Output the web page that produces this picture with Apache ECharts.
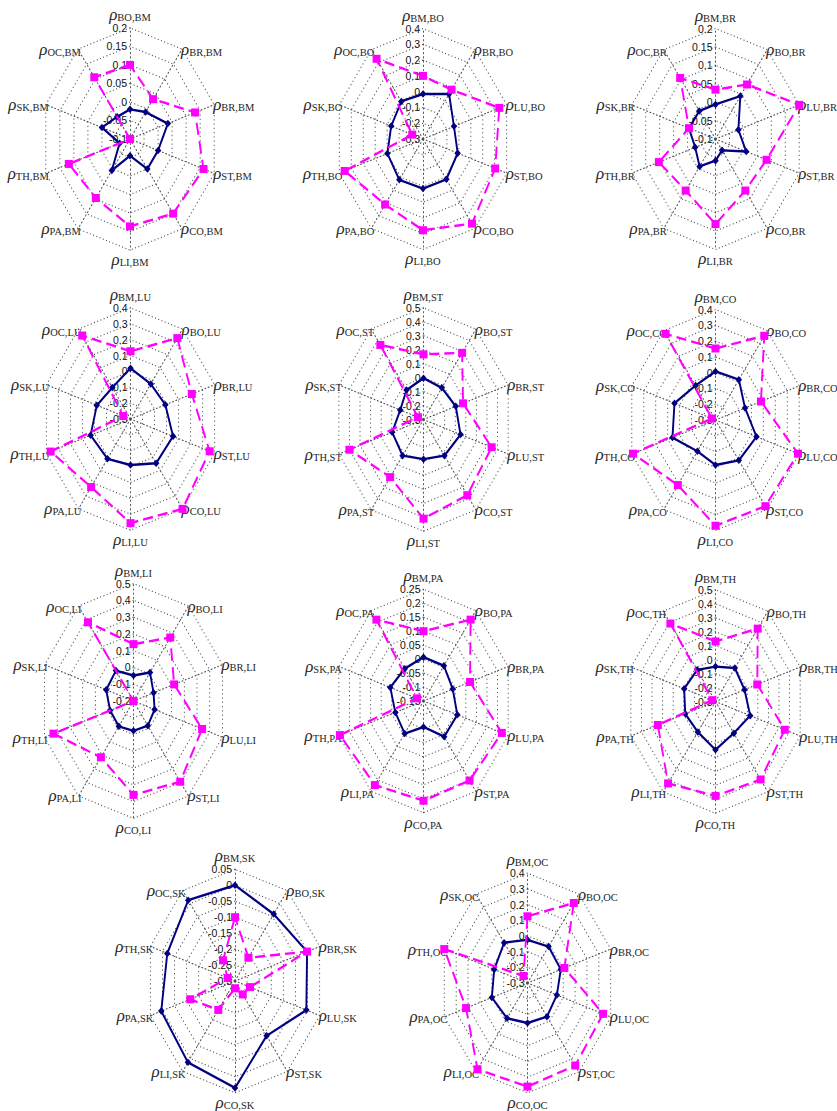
<!DOCTYPE html>
<html>
<head>
<meta charset="utf-8">
<script src="https://cdn.jsdelivr.net/npm/echarts@6.0.0/dist/echarts.min.js"></script>
<style>
  html, body { margin: 0; padding: 0; background: #fff; }
  #wrap { position: relative; width: 837px; height: 1111px; overflow: hidden; background: #fff; }
  #labels { position: absolute; left: 0; top: 0; width: 837px; height: 1111px; }
  #plots { position: absolute; left: 0; top: 0; width: 837px; height: 885px; transform-origin: 0 0; }
</style>
</head>
<body>
<div id="wrap">
  <div id="labels"></div>
  <div id="plots"></div>
</div>
<script>
// Axis order of every spider panel, clockwise from the top spoke.
const axesBM = ['BO', 'BR', 'BR', 'ST', 'CO', 'LI', 'PA', 'TH', 'SK', 'OC'];
const axesBO = ['BM', 'BR', 'LU', 'ST', 'CO', 'LI', 'PA', 'TH', 'SK', 'OC'];
const axesBR = ['BM', 'BO', 'LU', 'ST', 'CO', 'LI', 'PA', 'TH', 'SK', 'OC'];
const axesLU = ['BM', 'BO', 'BR', 'ST', 'CO', 'LI', 'PA', 'TH', 'SK', 'OC'];
const axesST = ['BM', 'BO', 'BR', 'LU', 'CO', 'LI', 'PA', 'TH', 'SK', 'OC'];
const axesCO = ['BM', 'BO', 'BR', 'LU', 'ST', 'LI', 'PA', 'TH', 'SK', 'OC'];
const axesLI = ['BM', 'BO', 'BR', 'LU', 'ST', 'CO', 'PA', 'TH', 'SK', 'OC'];
const axesPA = ['BM', 'BO', 'BR', 'LU', 'ST', 'CO', 'LI', 'TH', 'SK', 'OC'];
const axesTH = ['BM', 'BO', 'BR', 'LU', 'ST', 'CO', 'LI', 'PA', 'SK', 'OC'];
const axesSK = ['BM', 'BO', 'BR', 'LU', 'ST', 'CO', 'LI', 'PA', 'TH', 'OC'];
const axesOC = ['BM', 'BO', 'BR', 'LU', 'ST', 'CO', 'LI', 'PA', 'TH', 'SK'];

// Radial tick labels, outer ring first; the last one sits at the centre.
const ticksBM = [0.2, 0.15, 0.1, 0.05, 0, -0.05, -0.1];
const ticksBO = [0.4, 0.3, 0.2, 0.1, 0, -0.1, -0.2, -0.3];
const ticksBR = [0.2, 0.15, 0.1, 0.05, 0, -0.05, -0.1];
const ticksLU = [0.4, 0.3, 0.2, 0.1, 0, -0.1, -0.2, -0.3];
const ticksST = [0.5, 0.4, 0.3, 0.2, 0.1, 0, -0.1, -0.2, -0.3];
const ticksCO = [0.4, 0.3, 0.2, 0.1, 0, -0.1, -0.2, -0.3];
const ticksLI = [0.5, 0.4, 0.3, 0.2, 0.1, 0, -0.1, -0.2];
const ticksPA = [0.25, 0.2, 0.15, 0.1, 0.05, 0, -0.05, -0.1, -0.15];
const ticksTH = [0.5, 0.4, 0.3, 0.2, 0.1, 0, -0.1, -0.2, -0.3];
const ticksSK = [0.05, 0, -0.05, -0.1, -0.15, -0.2, -0.25, -0.3];
const ticksOC = [0.4, 0.3, 0.2, 0.1, 0, -0.1, -0.2, -0.3];

// Correlations drawn as the solid navy polygon (diamond markers).
const rhoA_BM = [-0.02, -0.01, 0.035, 0.0, 0.0, -0.055, 0.005, -0.063, 0.0, -0.026];
const rhoA_BO = [-0.015, 0.053, -0.041, -0.01, 0.016, 0.014, 0.02, -0.002, -0.034, -0.006];
const rhoA_BR = [-0.006, 0.044, -0.018, 0.01, -0.062, -0.041, -0.008, -0.027, -0.005, -0.006];
const rhoA_LU = [0.02, -0.027, -0.01, 0.054, 0.045, -0.01, 0.01, 0.032, -0.02, -0.055];
const rhoA_ST = [-0.004, -0.02, 0.005, 0.05, 0.02, -0.016, 0.02, -0.004, -0.08, -0.04];
const rhoA_CO = [0.008, 0.016, -0.053, 0.043, 0.016, -0.015, -0.055, 0.06, 0.043, -0.03];
const rhoA_LI = [-0.048, 0.01, -0.042, -0.034, -0.018, -0.022, -0.013, -0.016, 0.015, 0.024];
const rhoA_PA = [0.007, 0.006, -0.012, 0.01, 0.008, -0.057, -0.006, -0.017, 0.007, -0.007];
const rhoA_TH = [-0.05, -0.004, -0.026, 0.028, -0.02, 0.046, -0.03, -0.014, -0.004, -0.02];
const rhoA_SK = [0.0, -0.041, -0.002, -0.005, -0.088, 0.035, 0.015, 0.005, -0.02, 0.013];
const rhoA_OC = [-0.025, -0.013, -0.02, -0.053, -0.035, -0.045, -0.022, 0.0, -0.02, 0.018];

// Correlations drawn as the dashed magenta polygon (square markers).
const rhoB_BM = [0.1, 0.033, 0.132, 0.162, 0.149, 0.136, 0.097, 0.118, -0.1, 0.106];
const rhoB_BO = [0.1, 0.086, 0.338, 0.304, 0.363, 0.278, 0.213, 0.355, -0.21, 0.328];
const rhoB_BR = [0.034, 0.083, 0.2, 0.083, 0.073, 0.131, 0.073, 0.103, -0.005, 0.105];
const rhoB_LU = [0.127, 0.33, 0.21, 0.358, 0.4, 0.356, 0.23, 0.364, -0.24, 0.35];
const rhoB_ST = [0.166, 0.29, 0.074, 0.344, 0.37, 0.41, 0.21, 0.4, -0.247, 0.36];
const rhoB_CO = [0.153, 0.36, 0.08, 0.39, 0.375, 0.37, 0.21, 0.39, -0.27, 0.375];
const rhoB_LI = [0.139, 0.268, 0.12, 0.34, 0.395, 0.36, 0.215, 0.43, -0.2, 0.38];
const rhoB_PA = [0.1, 0.21, 0.07, 0.22, 0.202, 0.207, 0.222, 0.245, -0.119, 0.21];
const rhoB_TH = [0.13, 0.345, 0.095, 0.355, 0.39, 0.376, 0.425, 0.245, -0.27, 0.39];
const rhoB_SK = [-0.1, -0.21, -0.002, -0.238, -0.248, -0.277, -0.188, -0.115, -0.27, -0.22];
const rhoB_OC = [0.125, 0.33, 0.01, 0.336, 0.35, 0.36, 0.38, 0.217, 0.4, -0.245];

const panels = [
  { id: 'BM', axes: axesBM, ticks: ticksBM, a: rhoA_BM, b: rhoB_BM },
  { id: 'BO', axes: axesBO, ticks: ticksBO, a: rhoA_BO, b: rhoB_BO },
  { id: 'BR', axes: axesBR, ticks: ticksBR, a: rhoA_BR, b: rhoB_BR },
  { id: 'LU', axes: axesLU, ticks: ticksLU, a: rhoA_LU, b: rhoB_LU },
  { id: 'ST', axes: axesST, ticks: ticksST, a: rhoA_ST, b: rhoB_ST },
  { id: 'CO', axes: axesCO, ticks: ticksCO, a: rhoA_CO, b: rhoB_CO },
  { id: 'LI', axes: axesLI, ticks: ticksLI, a: rhoA_LI, b: rhoB_LI },
  { id: 'PA', axes: axesPA, ticks: ticksPA, a: rhoA_PA, b: rhoB_PA },
  { id: 'TH', axes: axesTH, ticks: ticksTH, a: rhoA_TH, b: rhoB_TH },
  { id: 'SK', axes: axesSK, ticks: ticksSK, a: rhoA_SK, b: rhoB_SK },
  { id: 'OC', axes: axesOC, ticks: ticksOC, a: rhoA_OC, b: rhoB_OC }
];

// Page placement of each panel: centre x, centre y, horizontal radius (px).
const placement = [
  [130, 139, 88.5], [423, 139, 88], [715.5, 139, 88],
  [130.5, 419, 88.5], [423.5, 419.5, 89], [715.5, 420, 88],
  [133.5, 701, 93.5], [423.5, 701, 89], [715.5, 701.5, 89],
  [235, 981, 89], [527.5, 983, 87.5]
];

// The spider axes are taller than wide: the plot layer is stretched vertically.
const PLOT_H = 885;
const SY = 1111 / PLOT_H;

// ECharts lays radar indicators out counter-clockwise; keep the first spoke on top
// and reverse the rest so the order runs clockwise.
function clockwiseOrder(arr) {
  return [arr[0]].concat(arr.slice(1).reverse());
}

const plotsEl = document.getElementById('plots');
plotsEl.style.transform = 'scaleY(' + SY + ')';
const plotChart = echarts.init(plotsEl, null, { renderer: 'svg' });

const dotted = { color: '#4a4a4a', width: 0.9, type: [1, 2.4] };
const radars = [];
const series = [];
panels.forEach(function (p, i) {
  const cx = placement[i][0], cy = placement[i][1], rx = placement[i][2];
  const min = p.ticks[p.ticks.length - 1];
  const max = p.ticks[0];
  radars.push({
    center: [cx, cy / SY],
    radius: rx,
    startAngle: 90,
    shape: 'polygon',
    splitNumber: p.ticks.length - 1,
    indicator: clockwiseOrder(p.axes).map(function (n, k) { return { name: n + k, min: min, max: max }; }),
    axisName: { show: false },
    axisLine: { lineStyle: dotted },
    splitLine: { lineStyle: dotted },
    splitArea: { show: false },
    axisTick: { show: false },
    axisLabel: { show: false }
  });
  series.push({
    type: 'radar',
    radarIndex: i,
    silent: true,
    z: 2,
    symbol: 'diamond',
    symbolSize: [6.5, 7.5 / SY],
    lineStyle: { color: '#000080', width: 1.9 },
    itemStyle: { color: '#000080' },
    data: [{ value: clockwiseOrder(p.a) }]
  });
  series.push({
    type: 'radar',
    radarIndex: i,
    silent: true,
    z: 3,
    symbol: 'rect',
    symbolSize: [8, 8 / SY],
    lineStyle: { color: '#ff00ff', width: 1.9, type: [10, 5] },
    itemStyle: { color: '#ff00ff' },
    data: [{ value: clockwiseOrder(p.b) }]
  });
});
plotChart.setOption({ animation: false, radar: radars, series: series });

// Axis names and radial tick labels, kept upright on an unstretched layer.
const labelChart = echarts.init(document.getElementById('labels'), null, { renderer: 'svg' });
const nameRich = {
  r: { fontFamily: 'Liberation Serif', fontStyle: 'italic', fontSize: 17, lineHeight: 17, fill: '#262626', verticalAlign: 'bottom' },
  s: { fontFamily: 'Liberation Serif', fontSize: 10.5, lineHeight: 11, fill: '#262626', verticalAlign: 'bottom' }
};
const graphics = [];
panels.forEach(function (p, i) {
  const cx = placement[i][0], cy = placement[i][1], rx = placement[i][2];
  const ry = rx * SY;
  p.axes.forEach(function (name, k) {
    const t = k * Math.PI / 5;
    const vx = cx + rx * Math.sin(t);
    const vy = cy - ry * Math.cos(t);
    let x = vx, y = vy, align, va;
    if (k === 0) { align = 'center'; va = 'bottom'; y = vy - 5; }
    else if (k === 5) { align = 'center'; va = 'top'; y = vy + 1; }
    else if (k < 5) { align = 'left'; va = 'middle'; x = vx - 1; }
    else { align = 'right'; va = 'middle'; x = vx + 3; }
    graphics.push({
      type: 'text', silent: true,
      style: { text: '{r|ρ}{s|' + name + ',' + p.id + '}', x: x, y: y, align: align, verticalAlign: va, rich: nameRich }
    });
  });
  const n = p.ticks.length - 1;
  p.ticks.forEach(function (v, k) {
    graphics.push({
      type: 'text', silent: true,
      style: {
        text: String(v), x: cx - 3, y: cy - ry * (n - k) / n,
        align: 'right', verticalAlign: 'middle',
        fontSize: 10.5, fontFamily: 'Liberation Sans', fill: '#111'
      }
    });
  });
});
labelChart.setOption({ animation: false, graphic: graphics });
</script>
</body>
</html>
